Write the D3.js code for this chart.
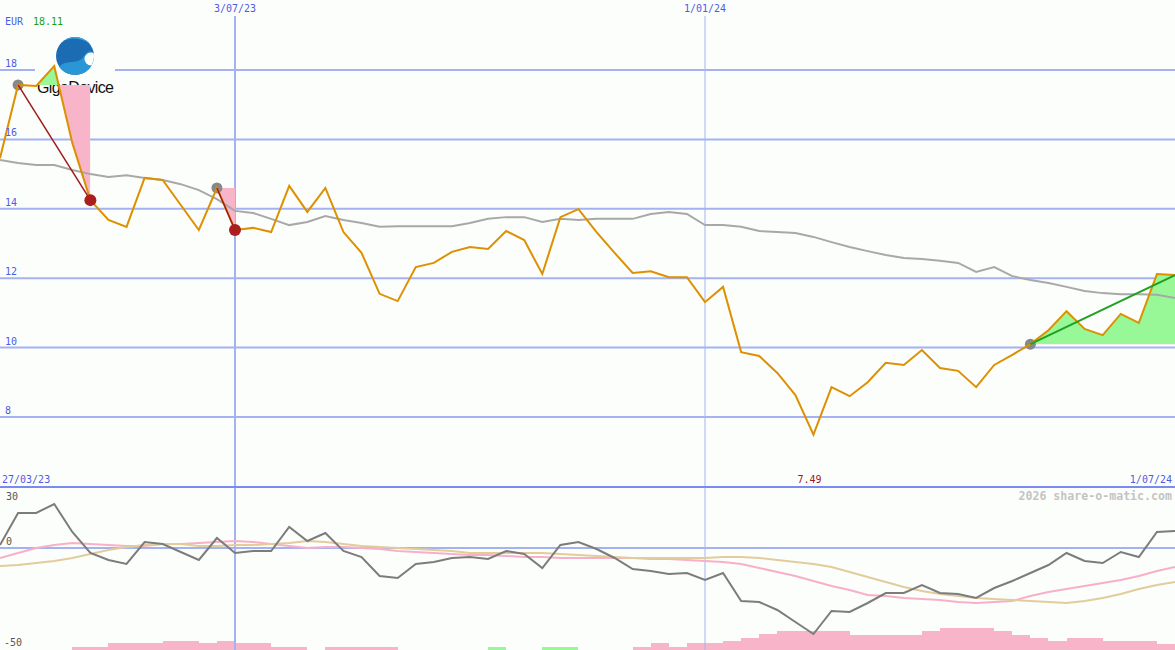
<!DOCTYPE html>
<html>
<head>
<meta charset="utf-8">
<script src="https://cdn.jsdelivr.net/npm/d3@7"></script>
<style>
  html, body { margin: 0; padding: 0; background: #fcfefc; }
  svg { display: block; }
  text { font-family: "DejaVu Sans Mono", monospace; font-size: 10px; }
</style>
</head>
<body>
<div id="chart"></div>
<script>
// weekly closes, 3 Apr 2023 .. 1 Jul 2024
const weeks = d3.timeMonday.range(new Date(2023, 3, 3), new Date(2024, 6, 2));

const price = [15.46, 17.57, 17.54, 18.11, 15.9, 14.25, 13.68, 13.48, 14.89, 14.83,
  14.11, 13.39, 14.6, 13.39, 13.45, 13.33, 14.66, 13.91, 14.6, 13.33,
  12.73, 11.55, 11.34, 12.32, 12.44, 12.76, 12.9, 12.84, 13.36, 13.1,
  12.12, 13.76, 13.99, 13.33, 12.73, 12.15, 12.2, 12.03, 12.03, 11.31,
  11.75, 9.87, 9.76, 9.27, 8.63, 7.49, 8.86, 8.6, 9.0, 9.56,
  9.5, 9.93, 9.41, 9.33, 8.86, 9.5, 9.79, 10.1, 10.5, 11.05,
  10.54, 10.36, 10.97, 10.71, 12.12, 12.09];

const movingAvg = [15.41, 15.32, 15.26, 15.26, 15.12, 15.0, 14.92, 14.97, 14.89, 14.83,
  14.71, 14.54, 14.28, 13.94, 13.88, 13.71, 13.53, 13.62, 13.79, 13.68,
  13.59, 13.48, 13.5, 13.5, 13.5, 13.5, 13.59, 13.71, 13.76, 13.76,
  13.62, 13.71, 13.68, 13.71, 13.71, 13.71, 13.85, 13.91, 13.85, 13.53,
  13.53, 13.48, 13.36, 13.33, 13.3, 13.19, 13.04, 12.9, 12.78, 12.67,
  12.58, 12.55, 12.5, 12.44, 12.18, 12.32, 12.06, 11.95, 11.86, 11.75,
  11.63, 11.57, 11.54, 11.54, 11.52, 11.43];

// lower panel
const momentum = [1.5, 17.5, 17.5, 22, 8, -2.5, -6, -8, 3, 2,
  -2, -6, 5, -2.5, -1.5, -1.5, 10.5, 3.5, 7.5, -1.5,
  -4.5, -14, -15, -8, -7, -5, -4.5, -5.5, -1.5, -3,
  -10, 1.5, 3, -0.5, -5, -10.5, -11.5, -13, -12.5, -16,
  -12.5, -26.5, -27, -31, -37, -43, -31.5, -32, -27.5, -22.5,
  -22.5, -18.5, -22.5, -23, -25, -20, -16.5, -12.5, -8.5, -2.5,
  -6.5, -7.5, -2, -4.5, 8, 8.5];

const fastAvg = [-5, -2.5, 0, 1.5, 2.5, 2, 1.5, 1, 1, 2,
  2, 2.5, 3, 3.5, 3, 2, 1, 0, 0.5, 0.5,
  0, -0.5, -1.5, -2, -2.5, -3, -3.5, -3.5, -4, -4.5,
  -4.5, -5, -5, -5, -5, -5, -5.5, -5.5, -6, -6.5,
  -7, -8, -10, -12, -14, -16.5, -19, -21, -23.5, -24,
  -25, -25.5, -26, -27, -27.5, -27, -26.5, -24, -22, -20.5,
  -19, -17.5, -16, -14, -11.5, -9.5];

const slowAvg = [-9, -8.5, -7.5, -6.5, -5, -3, -1, 0.5, 1.5, 2,
  2, 1, 1, 1.5, 1.5, 2, 2.5, 3.5, 3, 2,
  1, 0.5, 0, -0.5, -1, -1.5, -2.5, -2.5, -2.5, -2.5,
  -2.5, -3, -3.5, -4, -4.5, -5, -5, -5, -5, -5,
  -4.5, -4.5, -5, -6, -7, -8, -9.5, -12, -14.5, -17,
  -19.5, -21.5, -23, -24, -25, -25.5, -26, -26.5, -27, -27.5,
  -26.5, -25, -23, -20.5, -18.5, -17];

// one bar per week interval; negative = green
const histogram = [0, 0, 0, 0, 1.5, 1.5, 3.5, 3.5, 3.5, 4.5,
  4.5, 3.5, 4.5, 3.5, 3.5, 1.5, 1.5, 0, 1.5, 1.5,
  1.5, 1.5, 0, 0, 0, 0, 0, -1.5, 0, 0,
  -1.5, -1.5, 0, 0, 0, 1.5, 3.5, 1.5, 3.5, 3.5,
  4.5, 6, 8, 9.5, 9.5, 9.5, 9.5, 7.5, 7.5, 7.5,
  7.5, 9.5, 11, 11, 11, 9.5, 7.5, 6, 4.5, 6,
  6, 4.5, 4.5, 4.5, 3];

// trades: entry week index, exit week index, closed or still open
const signals = [
  { from: 1, to: 5, closed: true },
  { from: 12, to: 13, closed: true },
  { from: 57, to: 65, closed: false }
];

const priceTicks = [8, 10, 12, 14, 16, 18];
const oscTicks = [30, 0, -50];
const dateLines = [new Date(2023, 6, 3), new Date(2024, 0, 1)];
const dateLabels = ["3/07/23", "1/01/24"];
const currency = "EUR";
const maxLabel = "18.11";
const minLabel = "7.49";
const startLabel = "27/03/23";
const endLabel = "1/07/24";

const width = 1175, height = 650;
const bg = "#fcfefc";
const gridColor = "#a4b2f2";

const svg = d3.select("#chart").append("svg")
  .attr("width", width)
  .attr("height", height)
  .style("background", bg);

const x = d3.scaleTime().domain([weeks[0], weeks[weeks.length - 1]]).range([0, width]);
const y = d3.scaleLinear().domain([8, 18]).range([417, 70]);
const yOsc = d3.scaleLinear().domain([-50, 30]).range([648, 488]);
const yHist = d3.scaleLinear().domain([0, 11]).range([650, 628]);

// ---- histogram (bottom of lower panel)
svg.append("g")
  .selectAll("rect")
  .data(histogram.map((v, i) => ({ v, i })).filter(d => d.v !== 0))
  .join("rect")
  .attr("x", d => x(weeks[d.i]))
  .attr("width", d => x(weeks[d.i + 1]) - x(weeks[d.i]))
  .attr("y", d => yHist(Math.abs(d.v)))
  .attr("height", d => height - yHist(Math.abs(d.v)))
  .attr("fill", d => d.v > 0 ? "#f8b4c8" : "#98f898")
  .attr("shape-rendering", "crispEdges");

// ---- horizontal grid of main panel
svg.append("g")
  .selectAll("line")
  .data(priceTicks)
  .join("line")
  .attr("x1", 0).attr("x2", width)
  .attr("y1", d => y(d)).attr("y2", d => y(d))
  .attr("stroke", gridColor)
  .attr("stroke-width", 2);

// vertical date lines
svg.append("g")
  .selectAll("line")
  .data(dateLines)
  .join("line")
  .attr("x1", d => x(d)).attr("x2", d => x(d))
  .attr("y1", 16).attr("y2", height)
  .attr("stroke", gridColor)
  .attr("stroke-width", (d, i) => i == 0 ? 2 : 1);

// zero line of oscillator + panel separator
svg.append("line")
  .attr("x1", 0).attr("x2", width)
  .attr("y1", yOsc(0)).attr("y2", yOsc(0))
  .attr("stroke", gridColor).attr("stroke-width", 2);
svg.append("line")
  .attr("x1", 0).attr("x2", width)
  .attr("y1", 487).attr("y2", 487)
  .attr("stroke", "#7a8af0").attr("stroke-width", 2);

// ---- company logo (sits under the price line)
const logo = svg.append("g");
logo.append("rect").attr("x", 35).attr("y", 30).attr("width", 80).attr("height", 66).attr("fill", bg);
logo.append("clipPath").attr("id", "logo-clip")
  .append("circle").attr("cx", 75).attr("cy", 56).attr("r", 19);
const mark = logo.append("g").attr("clip-path", "url(#logo-clip)");
mark.append("rect").attr("x", 56).attr("y", 37).attr("width", 38).attr("height", 38).attr("fill", "#1c6cb4");
// lighter swirl in the lower right
mark.append("path")
  .attr("d", "M58,68 C66,58 78,66 84,56 C90,46 96,54 96,60 L96,78 L56,78 Z")
  .attr("fill", "#2a96d6");
mark.append("path")
  .attr("d", "M66,40 C76,36 88,40 94,48 L96,36 L64,36 Z")
  .attr("fill", "#3aa6e2");
// white bite on the right side
mark.append("circle").attr("cx", 91).attr("cy", 59).attr("r", 6.5).attr("fill", bg);
logo.append("text")
  .attr("x", 37).attr("y", 93)
  .style("font-family", "'Liberation Sans', Arial, sans-serif")
  .style("font-size", "16px")
  .attr("textLength", 77)
  .attr("fill", "#111")
  .text("GigaDevice");

// ---- trade areas between entry level and price
const tradeArea = svg.append("g");
signals.forEach((s, k) => {
  const seg = d3.range(s.from, s.to + 1);
  const level = price[s.from];
  const area = d3.area()
    .x(i => x(weeks[i]))
    .y0(y(level))
    .y1(i => y(price[i]));
  const x0 = x(weeks[s.from]), x1 = x(weeks[s.to]);
  ["above", "below"].forEach(side => {
    const id = `clip-${k}-${side}`;
    svg.append("clipPath").attr("id", id)
      .append("rect")
      .attr("x", x0).attr("width", x1 - x0)
      .attr("y", side == "above" ? 0 : y(level))
      .attr("height", side == "above" ? y(level) : height - y(level));
    tradeArea.append("path")
      .datum(seg)
      .attr("d", area)
      .attr("clip-path", `url(#${id})`)
      .attr("fill", side == "above" ? "#98f898" : "#f8b4c8");
  });
});

// ---- lines of main panel
const line = d3.line().x((d, i) => x(weeks[i])).y(d => y(d));

svg.append("path")
  .datum(movingAvg)
  .attr("d", line)
  .attr("fill", "none")
  .attr("stroke", "#a8a8a8")
  .attr("stroke-width", 2);

// entry markers sit under the price
svg.append("g")
  .selectAll("circle")
  .data(signals)
  .join("circle")
  .attr("cx", d => x(weeks[d.from]))
  .attr("cy", d => y(price[d.from]))
  .attr("r", 5.5)
  .attr("fill", "#888");

svg.append("path")
  .datum(price)
  .attr("d", line)
  .attr("fill", "none")
  .attr("stroke", "#dd9000")
  .attr("stroke-width", 2)
  .attr("stroke-linejoin", "miter");

svg.append("g")
  .selectAll("line")
  .data(signals)
  .join("line")
  .attr("x1", d => x(weeks[d.from])).attr("y1", d => y(price[d.from]))
  .attr("x2", d => x(weeks[d.to])).attr("y2", d => y(price[d.to]))
  .attr("stroke", d => price[d.to] >= price[d.from] ? "#22a022" : "#a01a1a")
  .attr("stroke-width", d => price[d.to] >= price[d.from] ? 2 : 1.5);

svg.append("g")
  .selectAll("circle")
  .data(signals.filter(d => d.closed))
  .join("circle")
  .attr("cx", d => x(weeks[d.to]))
  .attr("cy", d => y(price[d.to]))
  .attr("r", 6)
  .attr("fill", "#aa1e1e");

// ---- lower panel lines
const oscLine = d3.line().x((d, i) => x(weeks[i])).y(d => yOsc(d));
[[fastAvg, "#f8b0c8"], [slowAvg, "#e2cc9c"], [momentum, "#7c7c7c"]].forEach(([data, color]) => {
  svg.append("path")
    .datum(data)
    .attr("d", oscLine)
    .attr("fill", "none")
    .attr("stroke", color)
    .attr("stroke-width", 2);
});

// ---- texts
const labelBlue = "#4c5ce6";

svg.append("g")
  .selectAll("text")
  .data(priceTicks)
  .join("text")
  .attr("x", 5).attr("y", d => y(d) - 3)
  .attr("fill", labelBlue)
  .text(d => d);

svg.append("g")
  .selectAll("text")
  .data(oscTicks)
  .join("text")
  .attr("x", d => d < 0 ? 4 : 6)
  .attr("y", d => d == 30 ? 500 : d == 0 ? 545 : 646)
  .attr("fill", "#555")
  .text(d => String(d));

svg.append("g")
  .selectAll("text")
  .data(dateLines)
  .join("text")
  .attr("x", d => x(d)).attr("y", 12)
  .attr("text-anchor", "middle")
  .attr("fill", labelBlue)
  .text((d, i) => dateLabels[i]);

svg.append("text").attr("x", 5).attr("y", 25).attr("fill", labelBlue).text(currency);
svg.append("text").attr("x", 33).attr("y", 25).attr("fill", "#16a016").text(maxLabel);

svg.append("text").attr("x", 2).attr("y", 483).attr("fill", labelBlue).text(startLabel);
svg.append("text").attr("x", x(weeks[price.indexOf(d3.min(price))]) - 4).attr("y", 483)
  .attr("text-anchor", "middle").attr("fill", "#a01818").text(minLabel);
svg.append("text").attr("x", width - 3).attr("y", 483)
  .attr("text-anchor", "end").attr("fill", labelBlue).text(endLabel);

svg.append("text")
  .attr("x", width - 3).attr("y", 500)
  .attr("text-anchor", "end")
  .attr("fill", "#c4c4c4")
  .style("font-size", "11.6px")
  .style("font-weight", "bold")
  .text("2026 share-o-matic.com");
</script>
</body>
</html>
